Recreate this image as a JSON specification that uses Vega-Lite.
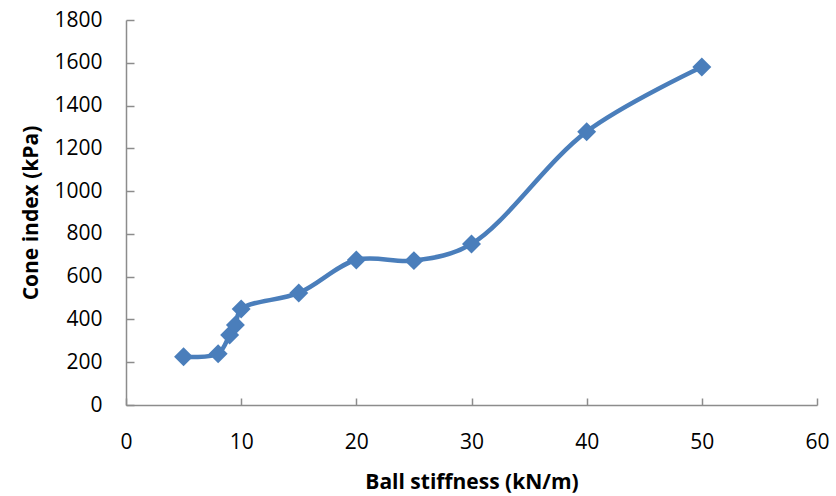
{
  "$schema": "https://vega.github.io/schema/vega-lite/v6.json",
  "autosize": {"type": "none"},
  "width": 691,
  "height": 385,
  "padding": {"left": 126, "top": 20, "right": 19, "bottom": 91},
  "background": "white",
  "config": {
    "view": {"stroke": null},
    "font": "Open Sans",
    "axis": {
      "grid": false,
      "domainColor": "#8C8C8C",
      "tickColor": "#8C8C8C",
      "domainWidth": 1.5,
      "tickWidth": 1.5,
      "labelColor": "#000000",
      "titleColor": "#000000",
      "labelFont": "Open Sans",
      "titleFont": "Open Sans",
      "labelFontSize": 21,
      "titleFontSize": 21,
      "titleFontWeight": "bold",
      "labelFlush": false,
      "labelOverlap": false,
      "format": "d"
    }
  },
  "data": {
    "values": [
      {"stiffness": 5, "cone_index": 226},
      {"stiffness": 8, "cone_index": 240},
      {"stiffness": 9, "cone_index": 327},
      {"stiffness": 9.5, "cone_index": 374},
      {"stiffness": 10, "cone_index": 449},
      {"stiffness": 15, "cone_index": 524},
      {"stiffness": 20, "cone_index": 678},
      {"stiffness": 25, "cone_index": 675},
      {"stiffness": 30, "cone_index": 753},
      {"stiffness": 40, "cone_index": 1278},
      {"stiffness": 50, "cone_index": 1580}
    ]
  },
  "encoding": {
    "x": {
      "field": "stiffness",
      "type": "quantitative",
      "title": "Ball stiffness (kN/m)",
      "scale": {"domain": [0, 60], "nice": false},
      "axis": {"values": [0, 10, 20, 30, 40, 50, 60], "tickSize": -7, "labelPadding": 33, "titlePadding": 19}
    },
    "y": {
      "field": "cone_index",
      "type": "quantitative",
      "title": "Cone index (kPa)",
      "scale": {"domain": [0, 1800], "nice": false},
      "axis": {"values": [0, 200, 400, 600, 800, 1000, 1200, 1400, 1600, 1800], "tickSize": -8, "labelPadding": 32, "titlePadding": 12}
    }
  },
  "layer": [
    {
      "mark": {"type": "line", "interpolate": "catmull-rom", "color": "#4A7EBB", "strokeWidth": 4.5}
    },
    {
      "mark": {"type": "point", "shape": "diamond", "filled": true, "opacity": 1, "color": "#4A7EBB", "size": 360}
    }
  ]
}
